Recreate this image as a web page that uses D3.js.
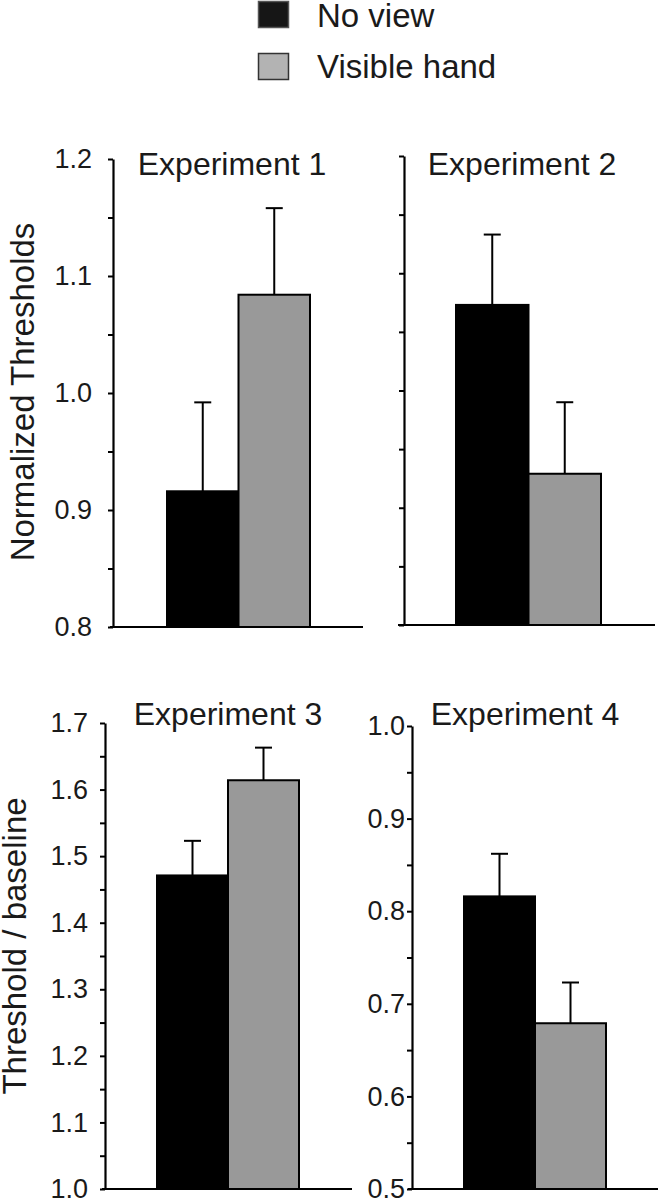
<!DOCTYPE html>
<html>
<head>
<meta charset="utf-8">
<script src="https://cdn.jsdelivr.net/npm/d3@7/dist/d3.min.js"></script>
<style>
  html, body { margin: 0; padding: 0; background: #fff; }
  svg { display: block; font-family: "Liberation Sans", Arial, Helvetica, sans-serif; }
</style>
</head>
<body>
<svg id="chart" width="660" height="1200"></svg>
<script>
// ---- data ----
const seriesNames = ["No view", "Visible hand"];
const experiments = ["Experiment 1", "Experiment 2", "Experiment 3", "Experiment 4"];
const noViewMeans = [0.916, 1.073, 1.471, 0.816];
const noViewErrors = [0.076, 0.060, 0.052, 0.046];
const visibleMeans = [1.084, 0.929, 1.614, 0.679];
const visibleErrors = [0.074, 0.061, 0.049, 0.044];
const yDomains = [[0.8, 1.2], [0.8, 1.2], [1.0, 1.7], [0.5, 1.0]];
const majorTicks = [
  [0.8, 0.9, 1.0, 1.1, 1.2],
  [0.8, 0.9, 1.0, 1.1, 1.2],
  [1.0, 1.1, 1.2, 1.3, 1.4, 1.5, 1.6, 1.7],
  [0.5, 0.6, 0.7, 0.8, 0.9, 1.0]
];
const showTickLabels = [true, false, true, true];
const yTitles = ["Normalized Thresholds", "", "Threshold / baseline", ""];

// ---- layout ----
const layout = [
  { ax: 113, top: 159, bottom: 627, xs: 110, xe: 363, b0: 167, b1: 310, pad: 16, tx: 232, ty: 175, lx: 34, ly: 392 },
  { ax: 404, top: 156, bottom: 625, xs: 398, xe: 655, b0: 456, b1: 601, pad: 16, tx: 522, ty: 175 },
  { ax: 105, top: 723, bottom: 1189, xs: 102, xe: 352, b0: 157, b1: 299, pad: 12, tx: 228, ty: 725, lx: 26, ly: 946 },
  { ax: 412, top: 726, bottom: 1189, xs: 408, xe: 658, b0: 464, b1: 606, pad: 2, tx: 525, ty: 725 }
];
const fills = ["#000000", "#999999"];
const legendFills = ["#161616", "#b3b3b3"];

const svg = d3.select("#chart");

// legend
const lg = svg.append("g");
seriesNames.forEach((name, i) => {
  lg.append("rect")
    .attr("x", 258.5).attr("y", 1.5 + i * 52)
    .attr("width", 30).attr("height", 26)
    .attr("fill", legendFills[i])
    .attr("stroke", i === 0 ? "#555" : "#333").attr("stroke-width", 1.5);
  lg.append("text")
    .attr("x", 317).attr("y", 27 + i * 51)
    .attr("font-size", 33).attr("fill", "#1a1a1a")
    .text(name);
});

experiments.forEach((title, p) => {
  const L = layout[p];
  const g = svg.append("g");
  const y = d3.scaleLinear().domain(yDomains[p]).range([L.bottom, L.top]);
  const x = d3.scaleBand().domain(seriesNames).range([L.b0, L.b1]).padding(0);

  const majors = majorTicks[p];
  const minors = majors.slice(0, -1).map((v, i) => (v + majors[i + 1]) / 2);
  const allTicks = majors.concat(minors);

  const axis = d3.axisLeft(y)
    .tickValues(allTicks)
    .tickSize(5)
    .tickSizeOuter(0)
    .tickPadding(L.pad)
    .tickFormat(d => (showTickLabels[p] && majors.some(m => Math.abs(m - d) < 1e-9)) ? d3.format(".1f")(d) : "");

  const ag = g.append("g").attr("transform", `translate(${L.ax},0)`).call(axis);
  ag.select(".domain").attr("stroke", "#000").attr("stroke-width", 2.2);
  ag.selectAll(".tick line").attr("stroke", "#000").attr("stroke-width", 2);
  ag.selectAll(".tick text").attr("font-size", 27).attr("fill", "#1a1a1a")
    .attr("font-family", "'Liberation Sans', Arial, sans-serif");

  // x baseline
  g.append("line")
    .attr("x1", L.xs).attr("x2", L.xe)
    .attr("y1", y(yDomains[p][0])).attr("y2", y(yDomains[p][0]))
    .attr("stroke", "#000").attr("stroke-width", 2.2);

  const rows = [
    { s: seriesNames[0], m: noViewMeans[p], e: noViewErrors[p], f: fills[0] },
    { s: seriesNames[1], m: visibleMeans[p], e: visibleErrors[p], f: fills[1] }
  ];

  // error bars (drawn first so bars cover base)
  rows.forEach(r => {
    const cx = x(r.s) + x.bandwidth() / 2;
    g.append("line")
      .attr("x1", cx).attr("x2", cx)
      .attr("y1", y(r.m)).attr("y2", y(r.m + r.e))
      .attr("stroke", "#000").attr("stroke-width", 2);
    g.append("line")
      .attr("x1", cx - 8.5).attr("x2", cx + 8.5)
      .attr("y1", y(r.m + r.e)).attr("y2", y(r.m + r.e))
      .attr("stroke", "#000").attr("stroke-width", 2);
  });

  g.selectAll("rect.bar").data(rows).enter().append("rect")
    .attr("class", "bar")
    .attr("x", d => x(d.s))
    .attr("y", d => y(d.m))
    .attr("width", x.bandwidth())
    .attr("height", d => y(yDomains[p][0]) - y(d.m))
    .attr("fill", d => d.f)
    .attr("stroke", "#000").attr("stroke-width", 2);

  // title
  g.append("text")
    .attr("x", L.tx).attr("y", L.ty)
    .attr("text-anchor", "middle")
    .attr("font-size", 32).attr("fill", "#1a1a1a")
    .text(title);

  if (yTitles[p]) {
    g.append("text")
      .attr("transform", `translate(${L.lx},${L.ly}) rotate(-90)`)
      .attr("text-anchor", "middle")
      .attr("font-size", 33).attr("fill", "#1a1a1a")
      .text(yTitles[p]);
  }
});
</script>
</body>
</html>
